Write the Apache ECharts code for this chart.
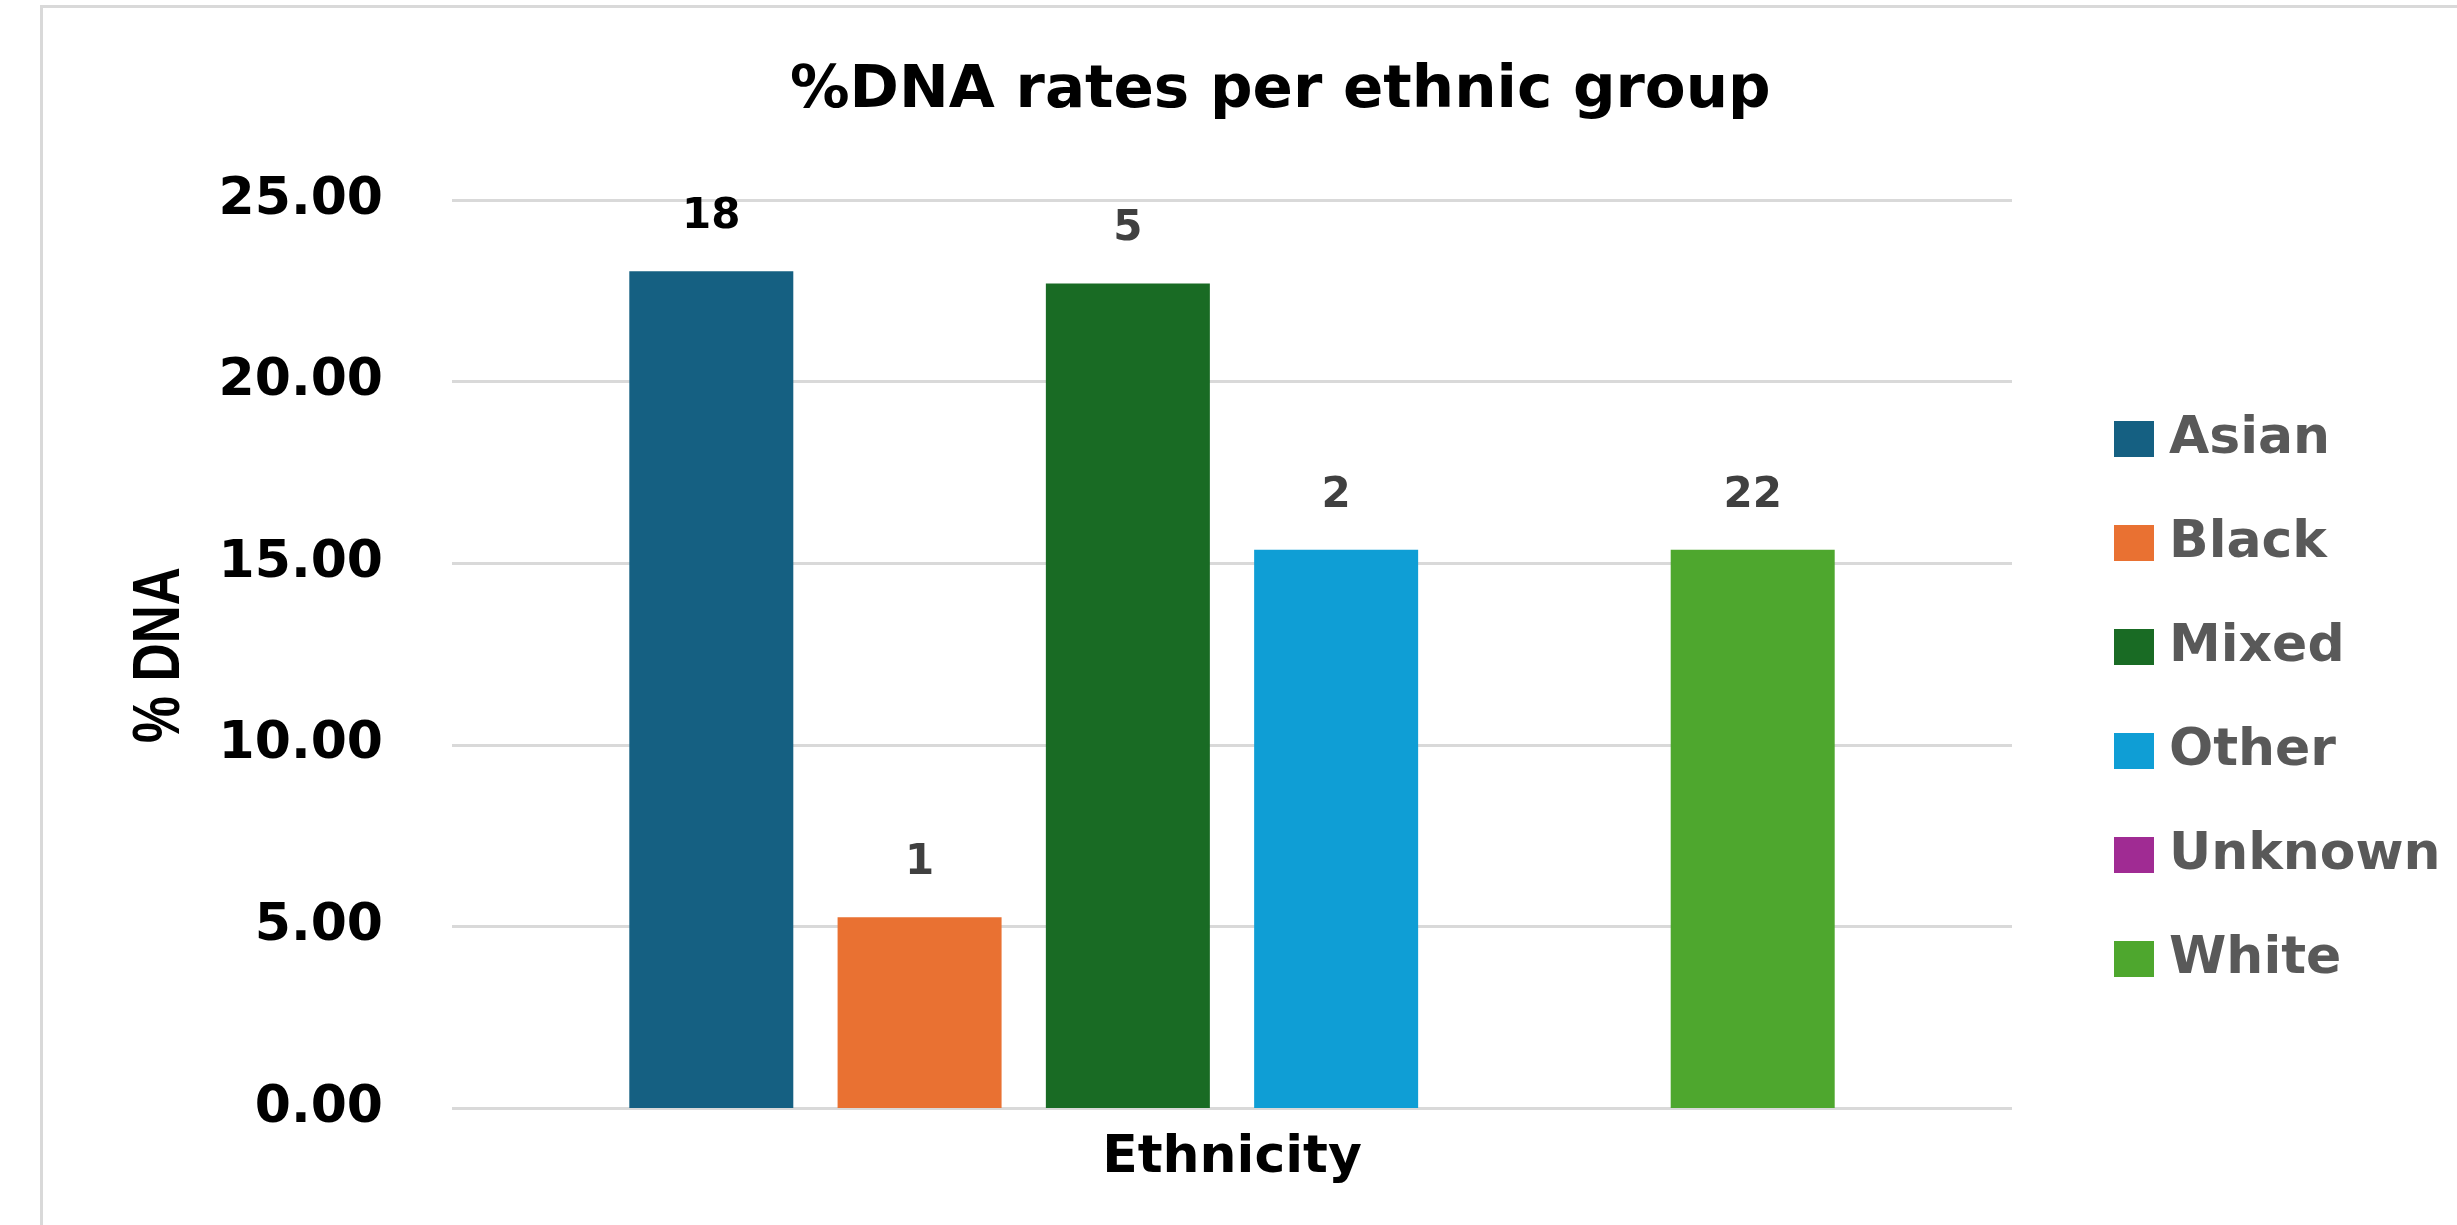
<!DOCTYPE html>
<html>
<head>
<meta charset="utf-8">
<title>%DNA rates per ethnic group</title>
<script src="https://cdn.jsdelivr.net/npm/echarts@6/dist/echarts.min.js"></script>
<style>
  html, body { margin: 0; padding: 0; background: #fff; }
  #chart { width: 2457px; height: 1225px; }
</style>
</head>
<body>
<div id="chart"></div>
<script>
// data
var categories = ['Ethnicity'];
var groups = ['Asian', 'Black', 'Mixed', 'Other', 'Unknown', 'White'];
var dnaRates = [23.04, 5.25, 22.70, 15.37, null, 15.37];
var counts = ['18', '1', '5', '2', '', '22'];
var colors = ['#156082', '#E97132', '#196B24', '#0F9ED5', '#A02B93', '#4EA72E'];
var labelColors = ['#000000', '#404040', '#404040', '#404040', '#404040', '#404040'];
var yTicks = { min: 0, max: 25, interval: 5 };

var FONT = 'DejaVu Sans';

var chart = echarts.init(document.getElementById('chart'), null, { renderer: 'canvas' });

var series = groups.map(function (name, i) {
  return {
    name: name,
    type: 'bar',
    barWidth: 164,
    barGap: '27%',
    itemStyle: { color: colors[i] },
    label: {
      show: counts[i] !== '',
      position: 'top',
      distance: 33,
      formatter: function () { return counts[i]; },
      fontFamily: FONT,
      fontWeight: 'bold',
      fontSize: 42,
      color: labelColors[i]
    },
    data: [dnaRates[i]]
  };
});

var option = {
  animation: false,
  backgroundColor: '#ffffff',
  color: colors,
  title: {
    text: '%DNA rates per ethnic group',
    left: 785,
    top: 57,
    textStyle: { fontFamily: FONT, fontWeight: 'bold', fontSize: 59.5, color: '#000000' }
  },
  legend: {
    orient: 'vertical',
    left: 2109,
    top: 408,
    icon: 'rect',
    itemWidth: 40,
    itemHeight: 36,
    itemGap: 52,
    data: groups,
    textStyle: {
      fontFamily: FONT, fontWeight: 'bold', fontSize: 52, color: '#595959',
      padding: [0, 0, 0, 10]
    }
  },
  grid: { left: 452, right: 445, top: 200, bottom: 117 },
  xAxis: {
    type: 'category',
    data: categories,
    axisLine: { show: false },
    axisTick: { show: false },
    axisLabel: {
      margin: 24,
      fontFamily: FONT, fontWeight: 'bold', fontSize: 52, color: '#000000'
    }
  },
  yAxis: {
    type: 'value',
    min: yTicks.min,
    max: yTicks.max,
    interval: yTicks.interval,
    axisLine: { show: false },
    axisTick: { show: false },
    axisLabel: {
      margin: 69,
      fontFamily: FONT, fontWeight: 'bold', fontSize: 52, color: '#000000',
      formatter: function (v) { return v.toFixed(2); }
    },
    splitLine: { lineStyle: { color: '#d9d9d9', width: 3 } }
  },
  graphic: [{
    type: 'rect',
    shape: { x: 41.5, y: 6.5, width: 3000, height: 3000 },
    style: { fill: 'none', stroke: '#d9d9d9', lineWidth: 3 },
    silent: true
  }, {
    // y axis title, narrow bold face squeezed along the text direction
    type: 'text',
    x: 161,
    y: 655,
    rotation: Math.PI / 2,
    scaleX: 0.8,
    style: {
      text: '% DNA',
      font: 'bold 66px "Liberation Sans", Arial, sans-serif',
      fill: '#000000',
      align: 'center',
      verticalAlign: 'middle'
    },
    silent: true
  }],
  series: series
};

chart.setOption(option);
</script>
</body>
</html>
